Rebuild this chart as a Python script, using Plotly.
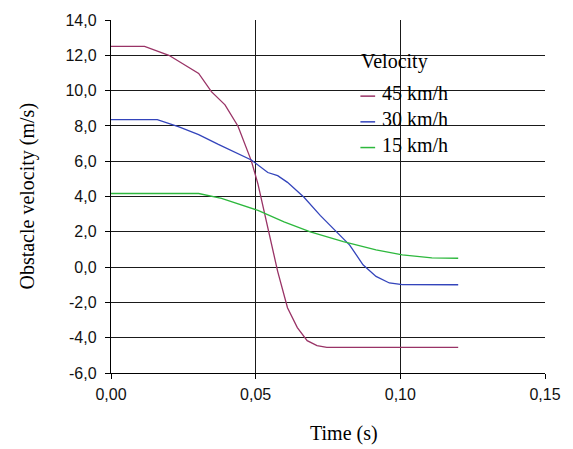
import plotly.graph_objects as go

# ---- data ----
t45 = [0, 0.0116, 0.020, 0.0303, 0.0347, 0.0394, 0.0439, 0.0485, 0.0508, 0.0542,
       0.0576, 0.061, 0.0644, 0.0678, 0.0712, 0.0746, 0.12]
v45 = [12.5, 12.5, 12.0, 10.97, 9.94, 9.19, 7.98, 6.02, 4.7, 2.3,
       -0.24, -2.3, -3.43, -4.17, -4.45, -4.55, -4.55]

t30 = [0, 0.016, 0.0235, 0.0303, 0.0371, 0.0439, 0.0485, 0.0542, 0.0576, 0.061,
       0.0667, 0.0723, 0.078, 0.0825, 0.0871, 0.0916, 0.0962, 0.1007, 0.12]
v30 = [8.35, 8.35, 7.94, 7.51, 6.95, 6.45, 6.07, 5.36, 5.18, 4.8,
       3.96, 2.93, 2.0, 1.25, 0.13, -0.53, -0.9, -0.99, -1.0]

t15 = [0, 0.0303, 0.0382, 0.0451, 0.0508, 0.0598, 0.0689, 0.0803, 0.0916, 0.1007, 0.1109, 0.12]
v15 = [4.17, 4.17, 3.9, 3.5, 3.21, 2.56, 2.0, 1.44, 0.97, 0.69, 0.52, 0.5]

series_names = ["45 km/h", "30 km/h", "15 km/h"]
series_colors = ["#993366", "#3344BB", "#2DB83D"]
legend_title = "Velocity"

x_tickvals = [0, 0.05, 0.10, 0.15]
x_ticktext = ["0,00", "0,05", "0,10", "0,15"]
y_tickvals = [-6, -4, -2, 0, 2, 4, 6, 8, 10, 12, 14]
y_ticktext = ["-6,0", "-4,0", "-2,0", "0,0", "2,0", "4,0", "6,0", "8,0", "10,0", "12,0", "14,0"]

x_range = [0, 0.15]
y_range = [-6, 14]

# plot-area geometry in pixels (used only to place the legend / titles)
L, R, T, B = 111, 553, 16, 373
W, H = R - L, B - T


def px(x):
    return (x - L) / W


def py(y):
    return (B - y) / H


fig = go.Figure()
for i, (t, v) in enumerate([(t45, v45), (t30, v30), (t15, v15)]):
    fig.add_trace(go.Scatter(x=t, y=v, mode="lines", name=series_names[i],
                             showlegend=False,
                             line=dict(color=series_colors[i], width=1.3)))

sans = "Liberation Sans, Arial, sans-serif"
serif = "Liberation Serif, Times New Roman, serif"

shapes = [dict(type="rect", xref="paper", yref="paper", layer="between",
               x0=px(346), x1=px(472), y0=py(170), y1=py(28),
               fillcolor="white", line=dict(width=0))]
annotations = [
    dict(text=legend_title, xref="paper", yref="paper",
         x=px(364), y=py(58), xanchor="left", yanchor="middle",
         showarrow=False, font=dict(family=serif, size=20, color="black")),
    dict(text="Time (s)", xref="paper", yref="paper",
         x=px(348), y=py(434), xanchor="center", yanchor="middle",
         showarrow=False, font=dict(family=serif, size=20, color="black")),
    dict(text="Obstacle velocity (m/s)", xref="paper", yref="paper",
         x=px(25), y=py(194), xanchor="center", yanchor="middle",
         textangle=-90, showarrow=False, font=dict(family=serif, size=20, color="black")),
]
item_y = [93, 119, 145]
for name, color, yy in zip(series_names, series_colors, item_y):
    shapes.append(dict(type="line", xref="paper", yref="paper",
                       x0=px(365), x1=px(380), y0=py(yy), y1=py(yy),
                       line=dict(color=color, width=1.5)))
    annotations.append(dict(text=name, xref="paper", yref="paper",
                            x=px(385), y=py(yy - 3), xanchor="left", yanchor="middle",
                            showarrow=False,
                            font=dict(family=serif, size=20, color="black")))

fig.update_layout(
    width=573, height=449,
    margin=dict(l=L, r=573 - R, t=T, b=449 - B),
    paper_bgcolor="white", plot_bgcolor="white",
    showlegend=False,
    xaxis=dict(range=x_range, tickvals=x_tickvals, ticktext=x_ticktext,
               showgrid=True, gridcolor="#1a1a1a", gridwidth=1.4,
               showline=True, linecolor="black", linewidth=1.4,
               ticks="outside", ticklen=5, tickcolor="black", tickwidth=1.4,
               ticklabelstandoff=2,
               tickfont=dict(family=sans, size=16, color="#111"),
               zeroline=False),
    yaxis=dict(range=y_range, tickvals=y_tickvals, ticktext=y_ticktext,
               showgrid=True, gridcolor="#1a1a1a", gridwidth=1.4,
               showline=True, linecolor="black", linewidth=1.4,
               ticks="outside", ticklen=5, tickcolor="black", tickwidth=1.4,
               ticklabelstandoff=5,
               tickfont=dict(family=sans, size=16, color="#111"),
               zeroline=False),
    shapes=shapes,
    annotations=annotations,
)

fig.write_html("out.html")
